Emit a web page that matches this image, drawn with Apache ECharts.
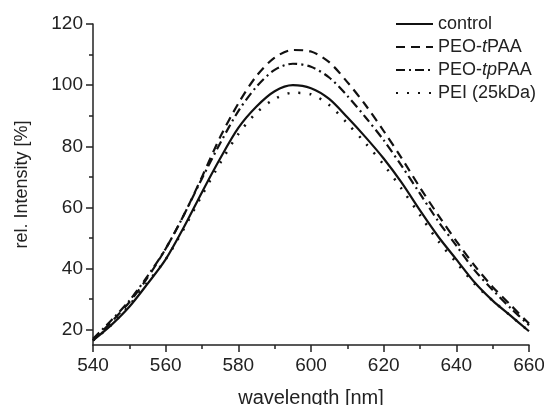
<!DOCTYPE html>
<html>
<head>
<meta charset="utf-8">
<script src="https://cdn.jsdelivr.net/npm/echarts@6/dist/echarts.min.js"></script>
<style>
html,body{margin:0;padding:0;background:#fff;}
#chart{width:544px;height:405px;}
</style>
</head>
<body>
<div id="chart"></div>
<script>
// wavelength [nm]
var wavelengths = [540,545,550,555,560,565,570,575,580,585,590,595,600,605,610,615,620,625,630,635,640,645,650,655,660];
var control   = [16.5,21.5,27.5,35,43,53.5,65,76,86,93,98,100,99,95.5,89.5,83,76,68,59,50.5,43,35.5,29.5,24.5,19.5];
var peoTPAA   = [16.5,22.5,29,37,46.5,57.5,70,83,94,103,109,111.5,111,107.5,101,93.5,85,76,66.5,57.5,49,41,34,28,22];
var peoTpPAA  = [17,23,29.5,37.5,46.5,57.5,69.5,81,91.5,99.5,105,107,106,102.5,96.5,89.5,82,73.5,64.5,55.5,47.5,39.5,33,27,21.5];
var pei25kDa  = [16.5,21.5,28,35.5,43,53,64,74.5,84,91,95.5,97.5,97,93.5,87.5,81,74,66,57.5,49,42,35,29.5,24.5,19.5];
var seriesNames = ['control','PEO-tPAA','PEO-tpPAA','PEI (25kDa)'];
var yMajorTicks = [20,40,60,80,100,120];
var yMinorTicks = [30,50,70,90,110];

function pairs(vals){ return wavelengths.map(function(w,i){ return [w, vals[i]]; }); }

var txt = '#222';
var font = 'Liberation Sans, Arial, sans-serif';
var chart = echarts.init(document.getElementById('chart'));
var option = {
  animation: false,
  backgroundColor: '#fff',
  grid: {left: 93, right: 15, top: 24, bottom: 60, containLabel: false, outerBoundsMode: 'none'},
  legend: {
    orient: 'vertical', left: 390, top: 10,
    itemWidth: 37, itemHeight: 14, itemGap: 5, itemTextGap: 8,
    data: seriesNames,
    itemStyle: {color: 'rgba(0,0,0,0)', borderWidth: 0, opacity: 0},
    textStyle: {color: txt, fontSize: 18, fontFamily: font, lineHeight: 14,
      rich: {
        n: {color: txt, fontSize: 18, fontFamily: font, lineHeight: 14},
        i: {color: txt, fontSize: 18, fontFamily: font, fontStyle: 'italic', lineHeight: 14}
      }},
    formatter: function(name){
      if (name === 'PEO-tPAA') return '{n|PEO-}{i|t}{n|PAA}';
      if (name === 'PEO-tpPAA') return '{n|PEO-}{i|tp}{n|PAA}';
      return '{n|' + name + '}';
    }
  },
  xAxis: {
    type: 'value', min: 540, max: 660, interval: 20,
    name: 'wavelength [nm]', nameLocation: 'middle', nameGap: 43,
    nameTextStyle: {color: txt, fontSize: 20, fontFamily: font},
    axisLine: {lineStyle: {color: txt, width: 1.5}},
    axisTick: {show: true, inside: false, length: 7, lineStyle: {color: txt, width: 1.5}},
    minorTick: {show: true, splitNumber: 2, length: 4, lineStyle: {color: txt, width: 1.5}},
    axisLabel: {color: txt, fontSize: 19, fontFamily: font, margin: 11},
    splitLine: {show: false}
  },
  yAxis: [{
    type: 'value', min: 15, max: 120,
    name: 'rel. Intensity [%]', nameLocation: 'middle', nameGap: 62,
    nameTextStyle: {color: txt, fontSize: 18, fontFamily: font},
    axisLine: {show: true, lineStyle: {color: txt, width: 1.5}},
    axisTick: {show: true, inside: false, length: 7, customValues: yMajorTicks, lineStyle: {color: txt, width: 1.5}},
    axisLabel: {color: txt, fontSize: 19, fontFamily: font, margin: 10, customValues: yMajorTicks},
    splitLine: {show: false}
  }, {
    type: 'value', min: 15, max: 120, position: 'left',
    axisLine: {show: false},
    axisTick: {show: true, inside: false, length: 4, customValues: yMinorTicks, lineStyle: {color: txt, width: 1.5}},
    axisLabel: {show: false},
    splitLine: {show: false}
  }],
  series: [
    {name: seriesNames[0], type: 'line', data: pairs(control), smooth: 0.3, symbol: 'none',
     lineStyle: {color: '#111', width: 2.2, type: 'solid'}, itemStyle: {color: '#111'}},
    {name: seriesNames[1], type: 'line', data: pairs(peoTPAA), smooth: 0.3, symbol: 'none',
     lineStyle: {color: '#111', width: 2.2, type: [9, 6]}, itemStyle: {color: '#111'}},
    {name: seriesNames[2], type: 'line', data: pairs(peoTpPAA), smooth: 0.3, symbol: 'none',
     lineStyle: {color: '#111', width: 2.2, type: [9, 4, 2, 4]}, itemStyle: {color: '#111'}},
    {name: seriesNames[3], type: 'line', data: pairs(pei25kDa), smooth: 0.3, symbol: 'none',
     lineStyle: {color: '#111', width: 2.5, type: [2, 9]}, itemStyle: {color: '#111'}}
  ]
};
chart.setOption(option);
</script>
</body>
</html>
